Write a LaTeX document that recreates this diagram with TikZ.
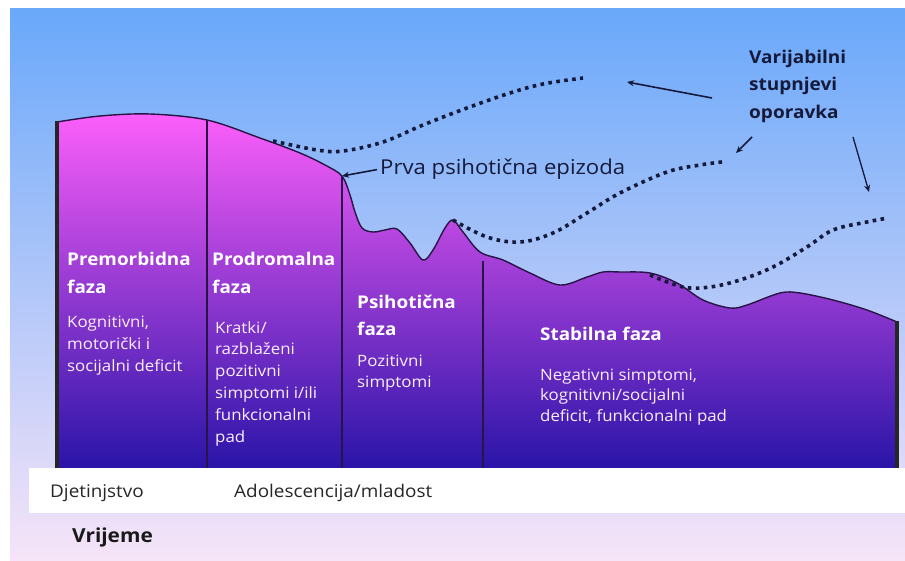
\documentclass[tikz,border=0pt]{standalone}
\usepackage{fontspec}
\setmainfont{Open Sans}[FakeStretch=1.08]
\usetikzlibrary{arrows.meta}
\definecolor{bgtop}{RGB}{105,168,250}
\definecolor{bgmid}{RGB}{168,206,246}
\definecolor{bgbot}{RGB}{246,228,248}
\definecolor{mtop}{RGB}{252,95,250}
\definecolor{mmid}{RGB}{195,72,232}
\definecolor{mbot}{RGB}{42,20,168}
\definecolor{outl}{RGB}{40,20,70}
\definecolor{navy}{RGB}{22,26,58}
\definecolor{bodycol}{RGB}{252,238,252}
\tikzset{
  head/.style={font=\fontsize{17.5}{27.5}\selectfont\bfseries, text=white, align=left, inner sep=0pt, anchor=base west},
  body/.style={font=\fontsize{15.6}{21.6}\selectfont, text=bodycol, align=left, inner sep=0pt, anchor=base west},
  darktext/.style={text=navy, inner sep=0pt, anchor=base west},
  dotline/.style={draw=navy, line width=3.6pt, dash pattern=on 3.6pt off 4.4pt},
  divider/.style={draw=outl, line width=2pt},
  edgeline/.style={draw=black!85, line width=4pt},
  pointer/.style={draw=navy, line width=1.6pt, -{Stealth[length=7pt,width=6pt]}}
}
\begin{document}
\begin{tikzpicture}[x=1pt,y=-1pt]
\useasboundingbox (0,0) rectangle (905,560);
\fill[white] (0,0) rectangle (905,560);
\shade[top color=bgtop, middle color=bgmid, bottom color=bgbot] (10,8) rectangle (905,560);
% mountain
\shade[top color=mtop, middle color=mmid, bottom color=mbot]
  (57,468) -- plot[smooth,tension=0.55] coordinates {(57,122) (100,116) (150,114) (207,120) (260,138) (300,153) (325,165) (342,176) (350,195) (355,212) (362,228) (373,232) (385,230) (397,229) (410,243) (423,260) (433,250) (445,228) (453,220) (463,232) (480,252) (503,260) (530,273) (560,285) (587,277) (603,272) (620,272) (650,273) (677,283) (703,300) (730,308) (747,305) (780,293) (800,293) (833,300) (867,310) (897,322)} -- (897,468) -- cycle;
\draw[outl, line width=1.4pt] plot[smooth,tension=0.55] coordinates {(57,122) (100,116) (150,114) (207,120) (260,138) (300,153) (325,165) (342,176) (350,195) (355,212) (362,228) (373,232) (385,230) (397,229) (410,243) (423,260) (433,250) (445,228) (453,220) (463,232) (480,252) (503,260) (530,273) (560,285) (587,277) (603,272) (620,272) (650,273) (677,283) (703,300) (730,308) (747,305) (780,293) (800,293) (833,300) (867,310) (897,322)};
% dividers and edges
\coordinate (ltop) at (57,121); \coordinate (lbot) at (57,468);
\coordinate (rtop) at (897,321); \coordinate (rbot) at (897,468);
\coordinate (d1t) at (207,120); \coordinate (d1b) at (207,468);
\coordinate (junc) at (342,176); \coordinate (d2b) at (342,468);
\coordinate (d3t) at (483,261); \coordinate (d3b) at (483,468);
\draw[edgeline] (ltop) -- (lbot);
\draw[edgeline] (rtop) -- (rbot);
\draw[divider] (d1t) -- (d1b);
\draw[divider] (junc) -- (d2b);
\draw[divider] (d3t) -- (d3b);
% dotted recovery curves
\draw[dotline] plot[smooth,tension=0.6] coordinates {(273,141) (317,150) (343,151) (383,142) (423,125) (467,108) (510,93) (543,84) (583,78)};
\draw[dotline] plot[smooth,tension=0.6] coordinates {(453,220) (487,237) (520,242) (553,233) (587,213) (620,193) (667,172) (700,165) (722,162)};
\draw[dotline] plot[smooth,tension=0.6] coordinates {(650,275) (683,287) (710,287) (740,280) (773,267) (807,247) (833,230) (867,222) (888,218)};
% band
\fill[white] (29,468) rectangle (905,513);
% texts in mountain (anchored at the baseline of the last line)
\node[head] (premh) at (67,293) {Premorbidna\\faza};
\node[body] (premb) at (67,371) {Kognitivni,\\motorički i\\socijalni deficit};
\node[head] (prodh) at (212,293) {Prodromalna\\faza};
\node[body, font=\fontsize{15.6}{21.8}\selectfont] (prodb) at (215,442) {Kratki/\\razblaženi\\pozitivni\\simptomi i/ili\\funkcionalni\\pad};
\node[head, font=\fontsize{17.5}{27}\selectfont\bfseries] (psih) at (357,335) {Psihotična\\faza};
\node[body, font=\fontsize{15.6}{21}\selectfont] (psib) at (357,387) {Pozitivni\\simptomi};
\node[head] (stabh) at (540,340) {Stabilna faza};
\node[body, font=\fontsize{15.6}{20.5}\selectfont] (stabb) at (540,421) {Negativni simptomi,\\kognitivni/socijalni\\deficit, funkcionalni pad};
% labels above
\node[darktext, font=\fontsize{20.5}{24}\selectfont] (prva) at (380,174) {Prva psihotična epizoda};
\draw[pointer] ([xshift=-3pt,yshift=-1pt]prva.west) -- (junc);
\node[darktext, font=\fontsize{17.6}{27.5}\selectfont\bfseries, align=left] (var) at (749,118) {Varijabilni\\stupnjevi\\oporavka};
\coordinate (a1s) at (712,98); \coordinate (a1e) at (627,82);
\coordinate (a2s) at (752,137); \coordinate (a2e) at (736,153);
\coordinate (a3s) at (853,137); \coordinate (a3e) at (869,192);
\draw[pointer] (a1s) -- (a1e);
\draw[pointer] (a2s) -- (a2e);
\draw[pointer, line width=1.3pt] (a3s) -- (a3e);
% band texts
\node[darktext, text=black!85, font=\fontsize{17.5}{22}\selectfont] (child) at (50,497) {Djetinjstvo};
\node[darktext, text=black!85, font=\fontsize{17.5}{22}\selectfont] (adol) at (234,497) {Adolescencija/mladost};
\node[darktext, text=black!90, font=\fontsize{19.3}{22}\selectfont\bfseries] (time) at (72,542) {Vrijeme};
\end{tikzpicture}
\end{document}
